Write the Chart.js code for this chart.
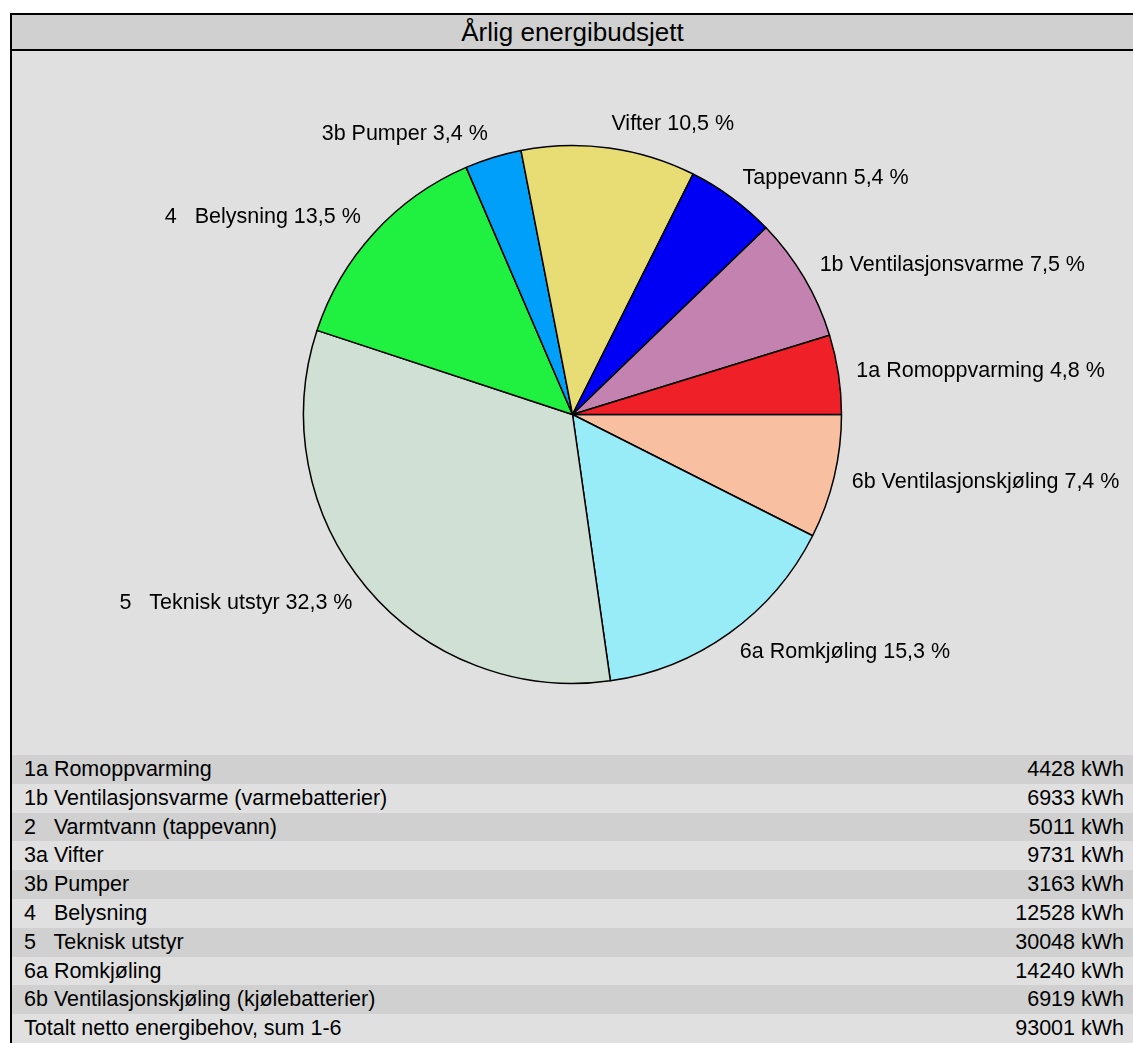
<!DOCTYPE html>
<html>
<head>
<meta charset="utf-8">
<script src="https://cdn.jsdelivr.net/npm/chart.js@4/dist/chart.umd.min.js"></script>
<style>
html, body { margin: 0; padding: 0; background: #fff; overflow: hidden; }
body { font-family: "Liberation Sans", Arial, sans-serif; }
#frame { position: absolute; left: 10px; top: 13px; width: 1121px; height: 1040px; border: 2px solid #000; background: #e0e0e0; }
#title { height: 34px; line-height: 35px; text-align: center; font-size: 26px; background: #d0d0d0; border-bottom: 2px solid #000; color: #000; }
#chartBox { position: relative; width: 1121px; height: 704px; }
.row { height: 28.8px; line-height: 29px; font-size: 21.5px; color: #000; display: flex; justify-content: space-between; padding: 0 9px 0 12px; white-space: pre; }
.row.dark { background: #d0d0d0; }
.row.light { background: #e0e0e0; }
</style>
</head>
<body>
<div id="frame">
  <div id="title">Årlig energibudsjett</div>
  <div id="chartBox"><canvas id="pie"></canvas></div>
  <div id="table"></div>
</div>
<script>
// --- data ---
const pieLabels = ['1a Romoppvarming', '1b Ventilasjonsvarme', 'Tappevann', 'Vifter', '3b Pumper',
                   '4   Belysning', '5   Teknisk utstyr', '6a Romkjøling', '6b Ventilasjonskjøling'];
const tableLabels = ['1a Romoppvarming', '1b Ventilasjonsvarme (varmebatterier)', '2   Varmtvann (tappevann)',
                     '3a Vifter', '3b Pumper', '4   Belysning', '5   Teknisk utstyr', '6a Romkjøling',
                     '6b Ventilasjonskjøling (kjølebatterier)'];
const kwhValues = [4428, 6933, 5011, 9731, 3163, 12528, 30048, 14240, 6919];
const sliceColors = ['#f02028', '#c482b0', '#0000f4', '#e8dc74', '#00a0fa', '#20f040', '#d0e0d4', '#98ecf8', '#f8c0a0'];
const totalLabel = 'Totalt netto energibehov, sum 1-6';
const total = kwhValues.reduce((a, b) => a + b, 0);

// --- table ---
const tableEl = document.getElementById('table');
const rows = tableLabels.map((l, i) => [l, kwhValues[i]]);
rows.push([totalLabel, total]);
tableEl.innerHTML = rows.map((r, i) =>
  `<div class="row ${i % 2 === 0 ? 'dark' : 'light'}"><span>${r[0]}</span><span>${r[1]} kWh</span></div>`
).join('');

// --- pie (Excel goes counter-clockwise from 3 o'clock, so reverse and start at 90deg) ---
const pct = v => (v / total * 100).toFixed(1).replace('.', ',') + ' %';
const revLabels = pieLabels.slice().reverse();
const revValues = kwhValues.slice().reverse();
const revColors = sliceColors.slice().reverse();

const outsideLabels = {
  id: 'outsideLabels',
  afterDatasetsDraw(chart) {
    const ctx = chart.ctx;
    const meta = chart.getDatasetMeta(0);
    ctx.save();
    ctx.font = '21.5px "Liberation Sans", Arial, sans-serif';
    ctx.fillStyle = '#000';
    ctx.textBaseline = 'middle';
    meta.data.forEach((arc, i) => {
      const p = arc.getProps(['x', 'y', 'startAngle', 'endAngle', 'outerRadius'], true);
      const mid = (p.startAngle + p.endAngle) / 2;
      const R = p.outerRadius + 18;
      const c = Math.cos(mid), s = Math.sin(mid);
      ctx.textAlign = c >= 0 ? 'left' : 'right';
      ctx.fillText(revLabels[i] + ' ' + pct(revValues[i]), p.x + c * R, p.y + s * R + s * 6);
    });
    ctx.restore();
  }
};

new Chart(document.getElementById('pie'), {
  type: 'pie',
  data: {
    labels: revLabels,
    datasets: [{
      data: revValues,
      backgroundColor: revColors,
      borderColor: '#000',
      borderWidth: 1.5,
      radius: 269
    }]
  },
  options: {
    responsive: true,
    maintainAspectRatio: false,
    animation: false,
    rotation: 90,
    layout: { padding: { top: 23 } },
    plugins: { legend: { display: false }, tooltip: { enabled: false } }
  },
  plugins: [outsideLabels]
});
</script>
</body>
</html>
